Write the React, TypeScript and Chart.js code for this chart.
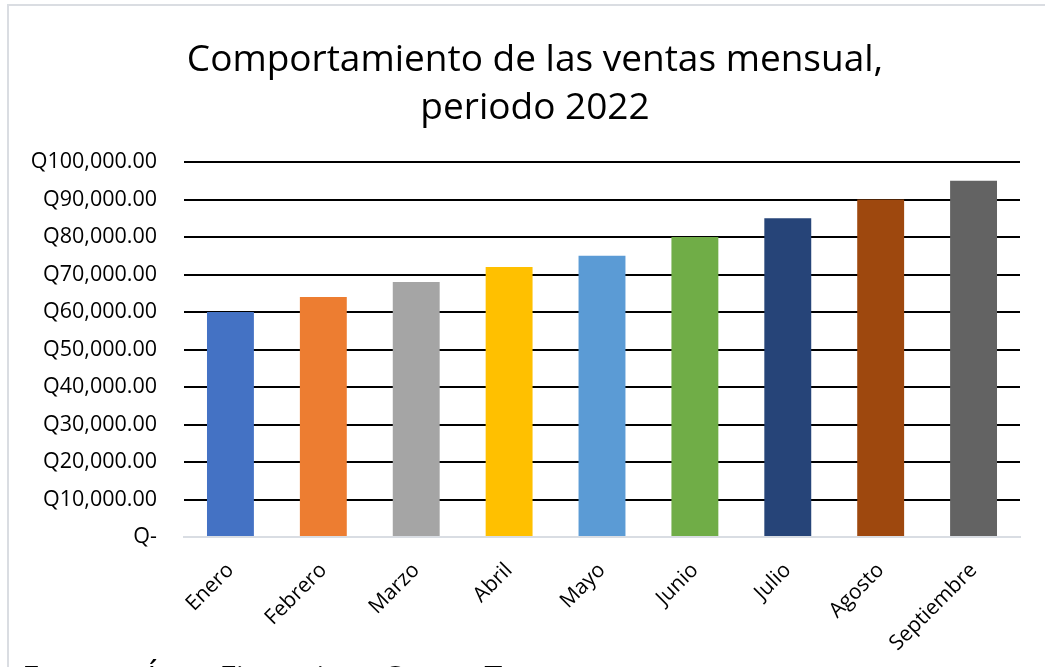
import React, { useEffect, useRef } from "react";
import { Chart, registerables } from "chart.js";

Chart.register(...registerables);

const months = ["Enero", "Febrero", "Marzo", "Abril", "Mayo", "Junio", "Julio", "Agosto", "Septiembre"];
const sales = [60000, 64000, 68000, 72000, 75000, 80000, 85000, 90000, 95000];
const barColors = ["#4472C4", "#ED7D31", "#A5A5A5", "#FFC000", "#5B9BD5", "#70AD47", "#264478", "#9E480E", "#636363"];
const titleLines = ["Comportamiento de las ventas mensual,", "periodo 2022"];
const sourceText = "Fuente: Área Financiera Grupo T";

const formatQ = (v: number) =>
  v === 0 ? "Q-" : "Q" + v.toLocaleString("en-US", { minimumFractionDigits: 2, maximumFractionDigits: 2 });

export default function App() {
  const ref = useRef<HTMLCanvasElement>(null);
  useEffect(() => {
    if (!ref.current) return;
    const chart = new Chart(ref.current, {
      type: "bar",
      data: {
        labels: months,
        datasets: [
          {
            data: sales,
            backgroundColor: barColors,
            barPercentage: 0.505,
            categoryPercentage: 1,
          },
        ],
      },
      options: {
        animation: false,
        responsive: false,
        layout: { padding: { left: 0, right: 25, top: 162, bottom: 0 } },
        plugins: {
          legend: { display: false },
          tooltip: { enabled: false },
          title: { display: false },
        },
        scales: {
          x: {
            grid: { display: false },
            border: { display: true, color: "#d9dde3", width: 2 },
            ticks: {
              color: "#000",
              font: { family: "'Open Sans'", size: 21 },
              maxRotation: 45,
              minRotation: 45,
              padding: 13,
            },
            afterFit: (scale: any) => {
              scale.height = 130;
            },
          },
          y: {
            min: 0,
            max: 100000,
            border: { display: false },
            grid: {
              drawTicks: false,
              lineWidth: 2,
              color: (ctx: any) => (ctx.tick && ctx.tick.value === 0 ? "rgba(0,0,0,0)" : "#000"),
            },
            ticks: {
              stepSize: 10000,
              color: "#000",
              font: { family: "'Open Sans'", size: 21.5 },
              padding: 27,
              callback: (v: any) => formatQ(Number(v)),
            },
            afterFit: (scale: any) => {
              scale.width = 184;
            },
          },
        },
      },
    });
    return () => chart.destroy();
  }, []);

  return (
    <div style={{ position: "fixed", left: 0, top: 0, width: 1045, height: 667, overflow: "hidden", background: "#fff" }}>
      <div
        style={{
          position: "absolute",
          left: 7,
          top: 4,
          width: 1100,
          height: 800,
          borderLeft: "2px solid #dadde2",
          borderTop: "2px solid #dadde2",
        }}
      />
      <canvas ref={ref} width={1045} height={667} style={{ position: "absolute", left: 0, top: 0 }} />
      <div
        style={{
          position: "absolute",
          left: 0,
          top: 33,
          width: 1070,
          textAlign: "center",
          fontFamily: "'Open Sans'",
          fontSize: 37,
          lineHeight: "48px",
          color: "#000",
        }}
      >
        {titleLines.map((t, i) => (
          <div key={i}>{t}</div>
        ))}
      </div>
      <div
        style={{
          position: "absolute",
          left: 22,
          top: 662,
          fontFamily: "'Open Sans'",
          fontSize: 32,
          lineHeight: "32px",
          whiteSpace: "nowrap",
          color: "#000",
        }}
      >
        {sourceText}
      </div>
    </div>
  );
}
